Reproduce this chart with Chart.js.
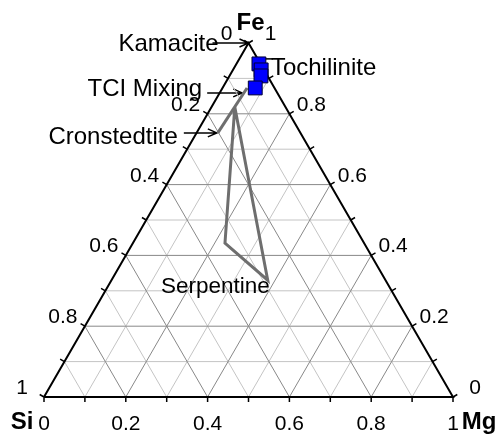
<!DOCTYPE html>
<html>
<head>
<meta charset="utf-8">
<script src="https://cdn.jsdelivr.net/npm/chart.js@4"></script>
<style>
  html, body { margin: 0; padding: 0; background: #fff; }
  canvas { display: block; }
</style>
</head>
<body>
<canvas id="tern" width="500" height="435"></canvas>
<script>
// ternary data: Mg fraction, Fe fraction (Si = 1 - Mg - Fe)
const tochMg = [0.055, 0.069, 0.077, 0.080];
const tochFe = [0.941, 0.924, 0.907, 0.873];

// TCI mixing line (cronstedtite end -> tochilinite end)
const mixMg = [0.052, 0.060];
const mixFe = [0.746, 0.873];

// serpentine field
const serpMg = [0.057, 0.225, 0.382, 0.057];
const serpFe = [0.819, 0.435, 0.330, 0.819];

// axis ticks
const tickValues = [0, 0.2, 0.4, 0.6, 0.8, 1];
const tickLabels = ['0', '0.2', '0.4', '0.6', '0.8', '1'];
const cornerNames = ['Si', 'Mg', 'Fe'];
const noteNames = ['Kamacite', 'TCI Mixing', 'Cronstedtite', 'Tochilinite', 'Serpentine'];

const H = Math.sqrt(3) / 2;
const toXY = (mg, fe) => ({ x: mg + fe / 2, y: fe * H });
const GAP = { x: null, y: null };

// grid lines every 0.1, darker at every 0.2
function gridLines(major) {
    const pts = [];
    for (let i = 1; i < 10; i++) {
        if ((i % 2 === 0) !== major) continue;
        const f = i / 10;
        // constant Fe
        pts.push(toXY(0, f), toXY(1 - f, f), GAP);
        // constant Mg
        pts.push(toXY(f, 0), toXY(f, 1 - f), GAP);
        // constant Si
        pts.push(toXY(1 - f, 0), toXY(0, 1 - f), GAP);
    }
    return pts;
}

const frame = [toXY(0, 0), toXY(1, 0), toXY(0, 1), toXY(0, 0)];

const px = (chart, mg, fe) => {
    const p = toXY(mg, fe);
    return { x: chart.scales.x.getPixelForValue(p.x), y: chart.scales.y.getPixelForValue(p.y) };
};

function arrow(ctx, x0, y0, x1, y1) {
    ctx.beginPath();
    ctx.moveTo(x0, y0);
    ctx.lineTo(x1, y1);
    ctx.moveTo(x1 - 9, y1 - 4);
    ctx.lineTo(x1, y1);
    ctx.lineTo(x1 - 9, y1 + 4);
    ctx.stroke();
}

const ternaryDecor = {
    id: 'ternaryDecor',
    beforeDatasetsDraw(chart) {
        const ctx = chart.ctx;
        ctx.save();
        ctx.strokeStyle = '#000';
        ctx.lineWidth = 1.5;
        // small ticks every 0.1 on the three edges
        for (let i = 0; i <= 10; i++) {
            const f = i / 10;
            const b = px(chart, f, 0);
            const l = px(chart, 0, f);
            const r = px(chart, 1 - f, f);
            ctx.beginPath();
            ctx.moveTo(b.x, b.y); ctx.lineTo(b.x, b.y + 5);
            ctx.moveTo(l.x, l.y); ctx.lineTo(l.x - 4.3, l.y - 2.5);
            ctx.moveTo(r.x, r.y); ctx.lineTo(r.x + 4.3, r.y - 2.5);
            ctx.stroke();
        }
        // arrows
        const kam = px(chart, 0, 1);
        arrow(ctx, kam.x - 36, kam.y, kam.x, kam.y);
        const tci = px(chart, 0.055, 0.859);
        arrow(ctx, tci.x - 35, tci.y, tci.x, tci.y);
        const cro = px(chart, mixMg[0], mixFe[0]);
        arrow(ctx, cro.x - 34, cro.y, cro.x - 1, cro.y);
        const toc = px(chart, tochMg[0], tochFe[0]);
        ctx.beginPath();
        ctx.moveTo(toc.x + 14, toc.y - 5); ctx.lineTo(toc.x, toc.y - 5);
        ctx.stroke();
        ctx.restore();
    },
    afterDatasetsDraw(chart) {
        const ctx = chart.ctx;
        ctx.save();
        ctx.fillStyle = '#000';
        // tick labels
        ctx.font = '21px Arial, "Liberation Sans", sans-serif';
        ctx.textBaseline = 'alphabetic';
        ctx.textAlign = 'center';
        tickValues.forEach((v, i) => {
            const b = px(chart, v, 0);
            ctx.fillText(tickLabels[i], b.x, b.y + 33);
            // left edge: Si fraction
            const l = px(chart, 0, 1 - v);
            ctx.fillText(tickLabels[i], l.x - 22, l.y - 3);
            // right edge: Fe fraction
            const r = px(chart, 1 - v, v);
            ctx.fillText(tickLabels[i], r.x + 22, r.y - 3);
        });
        // corner names
        ctx.font = 'bold 24px Arial, "Liberation Sans", sans-serif';
        const si = px(chart, 0, 0), mg = px(chart, 1, 0), fe = px(chart, 0, 1);
        ctx.fillText(cornerNames[0], si.x - 22, si.y + 32);
        ctx.fillText(cornerNames[1], mg.x + 26, mg.y + 32);
        ctx.fillText(cornerNames[2], fe.x + 2, fe.y - 13);
        // annotations
        ctx.font = '24px Arial, "Liberation Sans", sans-serif';
        ctx.textAlign = 'right';
        const kam = px(chart, 0, 1);
        ctx.fillText(noteNames[0], kam.x - 30, kam.y + 8);
        const tci = px(chart, 0.055, 0.859);
        ctx.fillText(noteNames[1], tci.x - 40, tci.y + 3);
        const cro = px(chart, mixMg[0], mixFe[0]);
        ctx.fillText(noteNames[2], cro.x - 40, cro.y + 11);
        ctx.textAlign = 'left';
        const toc = px(chart, tochMg[0], tochFe[0]);
        ctx.fillText(noteNames[3], toc.x + 12, toc.y + 11);
        ctx.font = '22.5px Arial, "Liberation Sans", sans-serif';
        ctx.textAlign = 'right';
        const serp = px(chart, serpMg[2], serpFe[2]);
        ctx.fillText(noteNames[4], serp.x + 2, serp.y + 13);
        ctx.restore();
    }
};

const lineSet = (data, color, width) => ({
    data: data,
    showLine: true,
    spanGaps: false,
    borderColor: color,
    borderWidth: width,
    pointRadius: 0,
    fill: false,
    clip: false
});

new Chart(document.getElementById('tern'), {
    type: 'scatter',
    data: {
        datasets: [
            {
                label: 'Tochilinite',
                data: tochMg.map((m, i) => toXY(m, tochFe[i])),
                pointStyle: 'rect',
                pointRadius: 9.8,
                backgroundColor: '#0000ff',
                borderColor: '#000033',
                borderWidth: 1,
                clip: false
            },
            lineSet(mixMg.map((m, i) => toXY(m, mixFe[i])), '#6e6e6e', 3),
            lineSet(serpMg.map((m, i) => toXY(m, serpFe[i])), '#6e6e6e', 3),
            lineSet(frame, '#000', 2),
            lineSet(gridLines(true), '#888888', 1),
            lineSet(gridLines(false), '#c4c4c4', 1)
        ]
    },
    options: {
        responsive: false,
        animation: false,
        layout: { padding: { left: 44, right: 47, top: 43, bottom: 38 } },
        scales: {
            x: { type: 'linear', min: 0, max: 1, display: false },
            y: { type: 'linear', min: 0, max: H, display: false }
        },
        plugins: {
            legend: { display: false },
            tooltip: { enabled: false }
        }
    },
    plugins: [ternaryDecor]
});
</script>
</body>
</html>
